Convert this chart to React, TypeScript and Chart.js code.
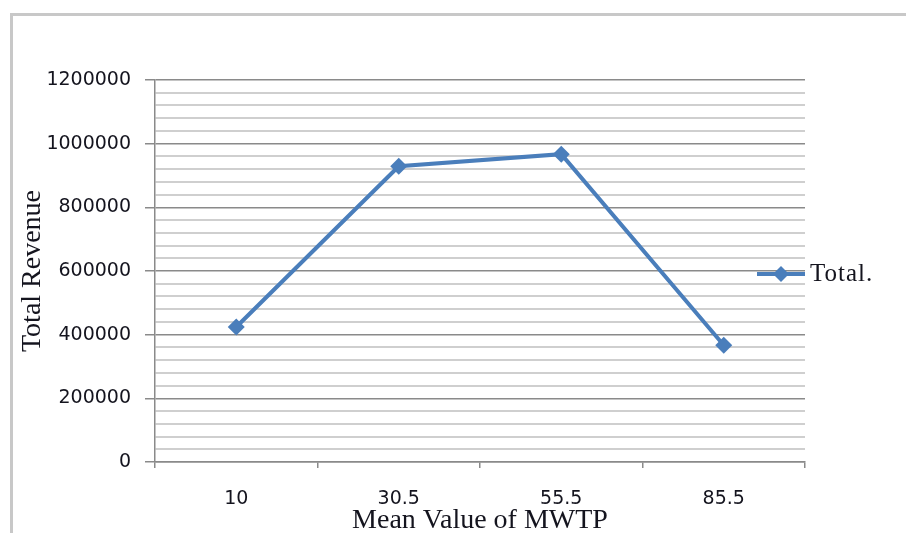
import React, { useEffect, useRef } from 'react';
import { Chart, registerables } from 'chart.js';

Chart.register(...registerables);

// ---- data ----
const categories: string[] = ['10', '30.5', '55.5', '85.5'];
const totalRevenue: number[] = [424000, 929000, 967000, 367000];
const seriesLabel = 'Total.';
const xTitle = 'Mean Value of MWTP';
const yTitle = 'Total Revenue';
const yMin = 0;
const yMax = 1200000;
const yMajorStep = 200000;
const yMinorStep = 40000;

const LINE_COLOR = '#4a7ebb';
const MAJOR_GRID = '#8a8a8a';
const MINOR_GRID = '#cfcfcf';
const TEXT_COLOR = '#14141e';

const sideLegend = {
  id: 'sideLegend',
  afterDatasetsDraw(chart: any) {
    const ctx = chart.ctx as CanvasRenderingContext2D;
    const ds = chart.data.datasets[0];
    const area = chart.chartArea;
    const y = 274;
    const x1 = area.right;
    const x0 = x1 - 48;
    const cx = (x0 + x1) / 2;
    ctx.save();
    ctx.strokeStyle = ds.borderColor;
    ctx.lineWidth = 4;
    ctx.beginPath();
    ctx.moveTo(x0, y);
    ctx.lineTo(x1, y);
    ctx.stroke();
    const r = 8;
    ctx.fillStyle = ds.borderColor;
    ctx.beginPath();
    ctx.moveTo(cx, y - r);
    ctx.lineTo(cx + r, y);
    ctx.lineTo(cx, y + r);
    ctx.lineTo(cx - r, y);
    ctx.closePath();
    ctx.fill();
    ctx.fillStyle = TEXT_COLOR;
    ctx.font = '25px "Liberation Serif", serif';
    try { (ctx as any).letterSpacing = '1px'; } catch (e) {}
    ctx.textBaseline = 'alphabetic';
    ctx.textAlign = 'left';
    ctx.fillText(ds.label, x1 + 5, 281);
    ctx.restore();
  },
};

export default function App() {
  const canvasRef = useRef<HTMLCanvasElement | null>(null);

  useEffect(() => {
    const canvas = canvasRef.current;
    if (!canvas) return;
    const chart = new Chart(canvas, {
      type: 'line',
      data: {
        labels: categories,
        datasets: [
          {
            label: seriesLabel,
            data: totalRevenue,
            borderColor: LINE_COLOR,
            backgroundColor: LINE_COLOR,
            borderWidth: 4,
            pointStyle: 'rectRot',
            pointRadius: 8.5,
            pointBorderWidth: 0,
            pointBackgroundColor: LINE_COLOR,
            tension: 0,
            fill: false,
          },
        ],
      },
      options: {
        responsive: false,
        animation: false,
        layout: { padding: { left: 0, top: 80, right: 101, bottom: 0 } },
        plugins: {
          legend: { display: false },
          tooltip: { enabled: false },
          title: { display: false },
        },
        scales: {
          x: {
            type: 'category',
            offset: true,
            afterFit: (s: any) => { s.height = 71; },
            grid: {
              offset: true,
              drawOnChartArea: false,
              drawTicks: true,
              tickLength: 6,
              color: MAJOR_GRID,
              lineWidth: 1.5,
            },
            border: { display: true, color: MAJOR_GRID, width: 1.5 },
            ticks: {
              autoSkip: false,
              maxRotation: 0,
              padding: 20,
              color: TEXT_COLOR,
              font: { family: '"DejaVu Sans", sans-serif', size: 19 },
            },
            title: {
              display: true,
              text: xTitle,
              color: TEXT_COLOR,
              padding: 0,
              font: { family: '"Liberation Serif", serif', size: 28, lineHeight: 0.9 },
            },
          },
          y: {
            min: yMin,
            max: yMax,
            afterFit: (s: any) => { s.width = 155; },
            grid: {
              drawTicks: true,
              tickLength: 10,
              color: (c: any) => (c.tick && c.tick.value % yMajorStep === 0 ? MAJOR_GRID : MINOR_GRID),
              lineWidth: (c: any) => (c.tick && c.tick.value % yMajorStep === 0 ? 1.5 : 2),
              tickColor: (c: any) => (c.tick && c.tick.value % yMajorStep === 0 ? MAJOR_GRID : 'rgba(0,0,0,0)'),
            },
            border: { display: true, color: MAJOR_GRID, width: 1.5 },
            ticks: {
              stepSize: yMinorStep,
              autoSkip: false,
              padding: 14,
              color: TEXT_COLOR,
              font: { family: '"DejaVu Sans", sans-serif', size: 19 },
              callback: (v: any) => (Number(v) % yMajorStep === 0 ? String(v) : ''),
            },
            title: {
              display: true,
              text: yTitle,
              color: TEXT_COLOR,
              padding: { top: 20, bottom: 0 },
              font: { family: '"Liberation Serif", serif', size: 28, lineHeight: 0.9 },
            },
          },
        },
      },
      plugins: [sideLegend],
    });
    return () => chart.destroy();
  }, []);

  return (
    <div
      style={{
        position: 'fixed',
        left: 0,
        top: 0,
        width: 906,
        height: 533,
        overflow: 'hidden',
        background: '#ffffff',
      }}
    >
      <div
        style={{
          position: 'absolute',
          left: 10,
          top: 13,
          width: 1200,
          height: 1200,
          borderLeft: '3px solid #c8c8c8',
          borderTop: '3px solid #c8c8c8',
        }}
      />
      <canvas
        ref={canvasRef}
        width={906}
        height={533}
        style={{ position: 'absolute', left: 0, top: 0, display: 'block' }}
      />
    </div>
  );
}
